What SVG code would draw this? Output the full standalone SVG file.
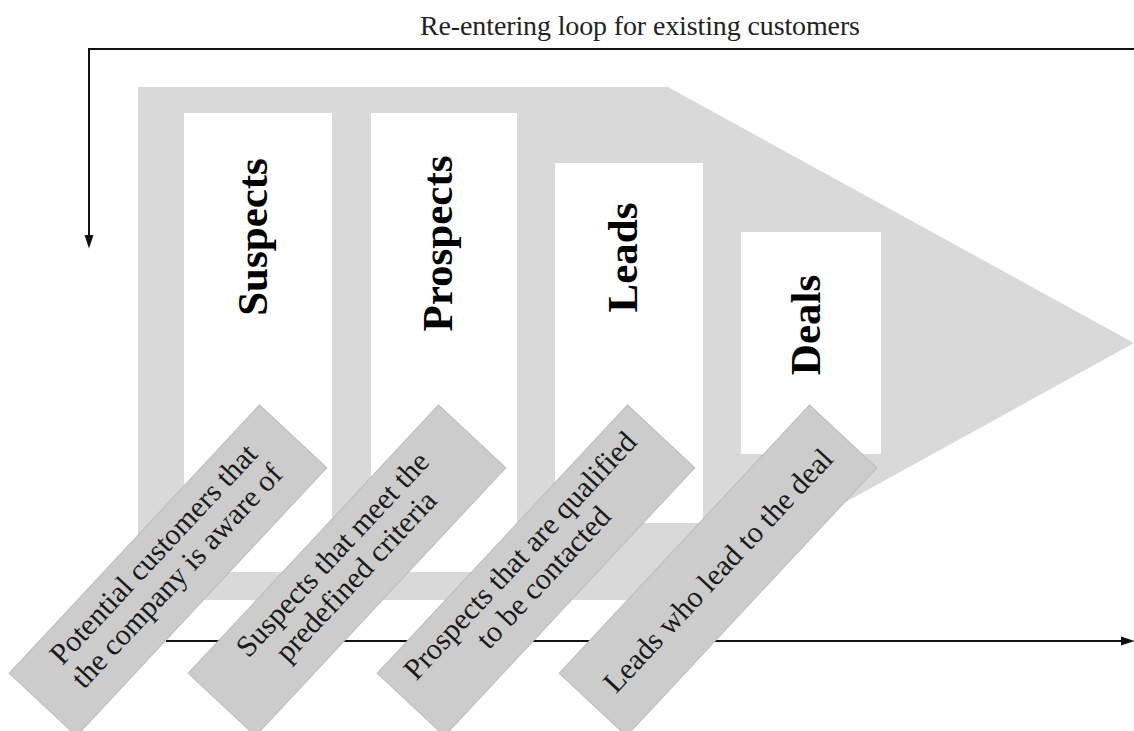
<svg xmlns="http://www.w3.org/2000/svg" width="1134" height="731" viewBox="0 0 1134 731">
<defs>
<style>
.funnel{fill:#d9d9d9;stroke:none}
.stage{fill:#ffffff;stroke:none}
.stagetxt{font-family:"Liberation Serif",serif;font-weight:bold;font-size:43px;fill:#000;text-anchor:middle}
.desc{fill:#cccccc;stroke:#bcbcbc;stroke-width:1}
.desctxt{font-family:"Liberation Serif",serif;font-size:30px;fill:#1a1a1a;text-anchor:middle}
.conn{fill:none;stroke:#111;stroke-width:2}
.title{font-family:"Liberation Serif",serif;font-size:28px;fill:#222}
</style>
<marker id="arrow" markerUnits="userSpaceOnUse" markerWidth="14" markerHeight="10" viewBox="0 0 14 10" refX="2" refY="5" orient="auto">
<path d="M0,0.5 L13.5,5 L0,9.5 z" fill="#111"/>
</marker>
</defs>
<rect width="1134" height="731" fill="#ffffff"/>

<g id="funnel">
<polygon class="funnel" points="138,87 668,87 1134,343 668,600 138,600"/>
</g>

<g id="stage-suspects">
<rect class="stage" x="184" y="113" width="148" height="459"/>
<text class="stagetxt" transform="translate(267,237) rotate(-90)">Suspects</text>
</g>
<g id="stage-prospects">
<rect class="stage" x="371" y="113" width="146" height="459"/>
<text class="stagetxt" transform="translate(452,243.5) rotate(-90)">Prospects</text>
</g>
<g id="stage-leads">
<rect class="stage" x="555" y="163" width="148" height="360"/>
<text class="stagetxt" transform="translate(637,257.5) rotate(-90)">Leads</text>
</g>
<g id="stage-deals">
<rect class="stage" x="741" y="232" width="140" height="222"/>
<text class="stagetxt" transform="translate(820,325) rotate(-90)">Deals</text>
</g>

<g id="connectors">
<text class="title" x="420" y="35" textLength="440">Re-entering loop for existing customers</text>
<path class="conn" d="M1134,49 H89 V237" marker-end="url(#arrow)"/>
<path class="conn" d="M166,641 H1123" marker-end="url(#arrow)"/>
</g>

<g id="desc-suspects" transform="translate(168,570.5) rotate(-47)">
<rect class="desc" x="-183.5" y="-46" width="367" height="92"/>
<text class="desctxt" x="2" y="-12">Potential customers that</text>
<text class="desctxt" x="2" y="20">the company is aware of</text>
</g>
<g id="desc-prospects" transform="translate(347,570.5) rotate(-47)">
<rect class="desc" x="-183.5" y="-46" width="367" height="92"/>
<text class="desctxt" x="2" y="-12">Suspects that meet the</text>
<text class="desctxt" x="2" y="20">predefined criteria</text>
</g>
<g id="desc-leads" transform="translate(536,570.5) rotate(-47)">
<rect class="desc" x="-183.5" y="-46" width="367" height="92"/>
<text class="desctxt" x="0" y="-12">Prospects that are qualified</text>
<text class="desctxt" x="0" y="20">to be contacted</text>
</g>
<g id="desc-deals" transform="translate(718,570.5) rotate(-47)">
<rect class="desc" x="-183.5" y="-46" width="367" height="92"/>
<text class="desctxt" x="0" y="10">Leads who lead to the deal</text>
</g>
</svg>
